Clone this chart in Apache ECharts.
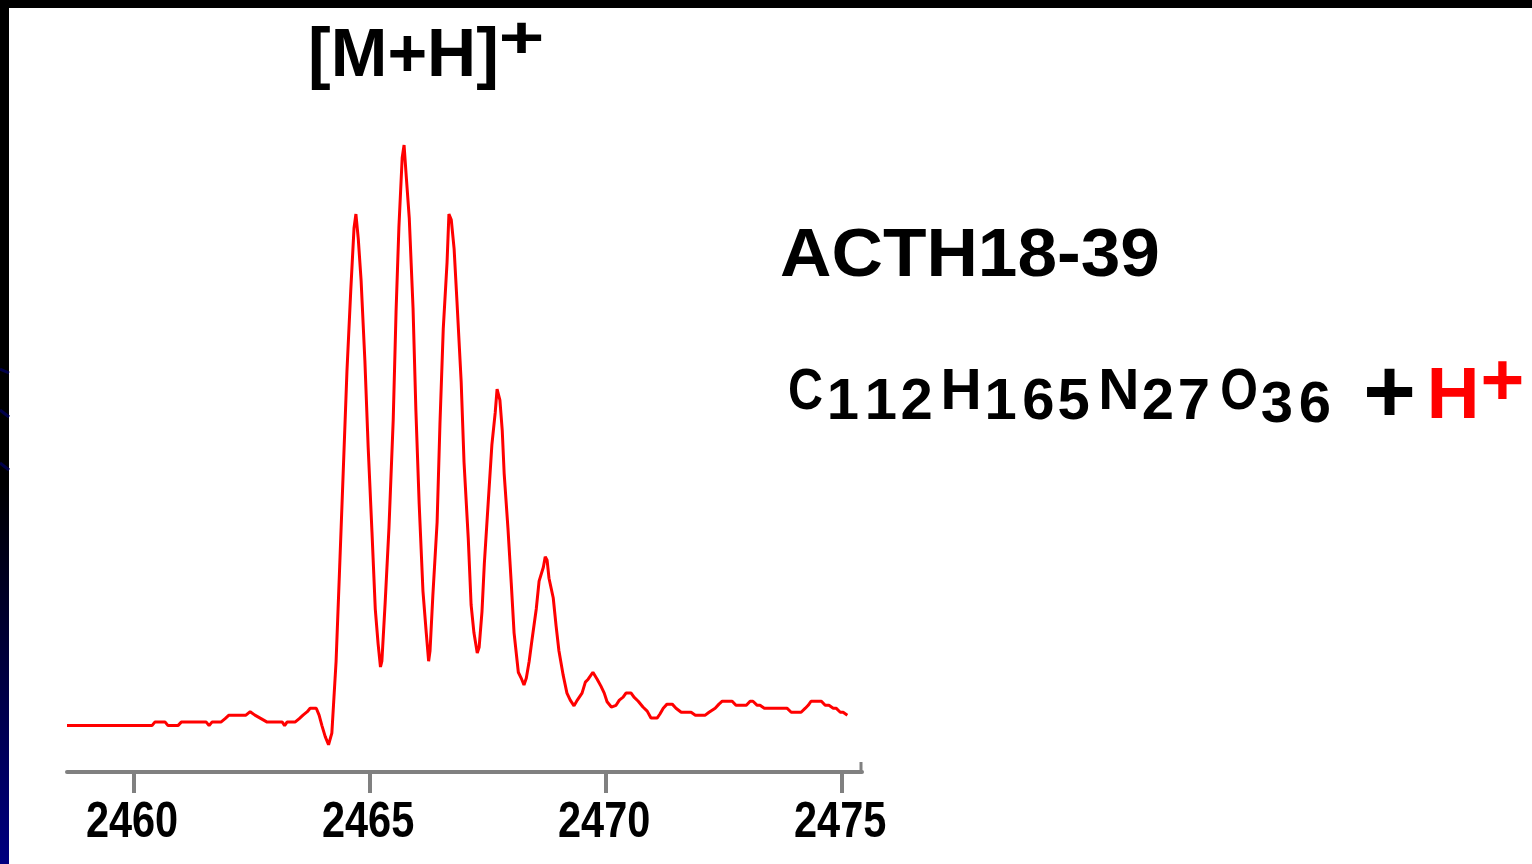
<!DOCTYPE html>
<html>
<head>
<meta charset="utf-8">
<title>ACTH18-39 [M+H]+</title>
<script src="https://cdn.jsdelivr.net/npm/echarts@6/dist/echarts.min.js"></script>
<style>
  html, body { margin: 0; padding: 0; background: #fff; }
  #chart { width: 1532px; height: 864px; }
</style>
</head>
<body>
<div id="chart"></div>
<script>
// Isotope envelope of the protonated ACTH18-39 ion (m/z vs relative intensity, %)
const mzValues = [
  2458.58, 2460.38, 2460.44, 2460.66, 2460.72, 2460.93, 2461.00, 2461.53, 2461.59, 2461.65,
  2461.84, 2461.93, 2462.01, 2462.37, 2462.46, 2462.56, 2462.69, 2462.82, 2463.14, 2463.19,
  2463.24, 2463.41, 2463.50, 2463.58, 2463.67, 2463.73, 2463.86, 2463.92, 2463.98, 2464.05,
  2464.12, 2464.19, 2464.28, 2464.35, 2464.43, 2464.51, 2464.59, 2464.66, 2464.70, 2464.75,
  2464.81, 2464.89, 2464.96, 2465.04, 2465.11, 2465.17, 2465.22, 2465.25, 2465.32, 2465.40,
  2465.49, 2465.55, 2465.61, 2465.68, 2465.72, 2465.76, 2465.83, 2465.91, 2465.97, 2466.04,
  2466.12, 2466.19, 2466.24, 2466.27, 2466.33, 2466.42, 2466.48, 2466.55, 2466.63, 2466.67,
  2466.72, 2466.78, 2466.84, 2466.93, 2466.99, 2467.08, 2467.14, 2467.20, 2467.27, 2467.31,
  2467.37, 2467.42, 2467.50, 2467.58, 2467.65, 2467.69, 2467.75, 2467.80, 2467.84, 2467.92,
  2467.99, 2468.05, 2468.14, 2468.20, 2468.26, 2468.31, 2468.37, 2468.43, 2468.52, 2468.58,
  2468.67, 2468.71, 2468.75, 2468.79, 2468.88, 2468.94, 2469.00, 2469.09, 2469.17, 2469.24,
  2469.32, 2469.39, 2469.49, 2469.56, 2469.62, 2469.72, 2469.81, 2469.89, 2469.96, 2470.02,
  2470.11, 2470.15, 2470.21, 2470.28, 2470.36, 2470.42, 2470.53, 2470.59, 2470.68, 2470.78,
  2470.87, 2470.95, 2471.08, 2471.14, 2471.21, 2471.29, 2471.40, 2471.48, 2471.59, 2471.80,
  2471.89, 2472.10, 2472.18, 2472.31, 2472.39, 2472.46, 2472.67, 2472.75, 2472.97, 2473.05,
  2473.11, 2473.20, 2473.26, 2473.35, 2473.83, 2473.92, 2474.13, 2474.22, 2474.28, 2474.34,
  2474.56, 2474.64, 2474.72, 2474.81, 2474.87, 2474.96, 2475.02, 2475.11
];

const intensity = [
  -0.1, -0.1, 0.5, 0.5, -0.1, -0.1, 0.5, 0.5, -0.1, 0.5,
  0.5, 1.1, 1.7, 1.7, 2.3, 1.7, 1.1, 0.5, 0.5, -0.1,
  0.5, 0.5, 1.1, 1.7, 2.3, 2.9, 2.9, 1.7, -0.1, -2.0,
  -3.4, -1.4, 11.0, 26.0, 43.4, 61.0, 74.8, 85.7, 88.1, 83.8,
  76.6, 62.8, 47.8, 33.3, 20.0, 14.0, 10.0, 11.0, 21.2, 34.0,
  52.6, 71.2, 85.7, 97.8, 100.0, 95.3, 87.4, 71.9, 54.3, 38.1,
  23.1, 15.9, 11.0, 12.8, 22.4, 35.0, 51.9, 68.3, 79.7, 88.1,
  87.1, 82.1, 73.1, 59.1, 45.3, 32.1, 20.7, 15.9, 12.4, 13.4,
  19.5, 27.8, 38.1, 48.3, 53.8, 57.9, 56.0, 50.7, 43.4, 34.0,
  24.5, 15.9, 9.1, 8.1, 6.9, 8.1, 11.0, 14.7, 20.0, 24.8,
  27.2, 29.0, 28.4, 25.3, 21.9, 17.1, 12.8, 8.6, 5.5, 4.3,
  3.3, 4.3, 5.5, 7.4, 7.9, 9.1, 7.9, 6.7, 5.5, 4.0,
  3.1, 2.8, 3.4, 4.3, 4.8, 5.5, 5.5, 4.8, 4.1, 3.1,
  2.4, 1.2, 1.2, 1.9, 2.9, 3.6, 3.6, 2.9, 2.2, 2.2,
  1.7, 1.7, 2.2, 2.9, 3.6, 4.1, 4.1, 3.4, 3.4, 4.1,
  4.1, 3.4, 3.4, 2.9, 2.9, 2.2, 2.2, 2.9, 3.4, 4.1,
  4.1, 3.4, 3.4, 2.9, 2.9, 2.2, 2.2, 1.7
];

const tickValues = [2460, 2465, 2470, 2475];
const mzRange = [2458.58, 2475.42];
const intensityRange = [-8.1, 100];

const spectrum = mzValues.map((m, i) => [m, intensity[i]]);

const SANS = "'Liberation Sans', Arial, Helvetica, sans-serif";
const BLACK = '#000000';
const RED = '#ff0000';
const AXIS_GREY = '#808080';

// Text placed by the centre of its glyphs and its baseline
function label(text, cx, baseline, size, color, scaleX) {
  return {
    type: 'text',
    x: cx,
    y: baseline - 0.3465 * size,
    scaleX: scaleX || 1,
    silent: true,
    z: 10,
    style: {
      text: text,
      fontFamily: SANS,
      fontWeight: 'bold',
      fontSize: size,
      fill: color,
      align: 'center',
      verticalAlign: 'middle'
    }
  };
}

const texts = [
  label('[M+H]', 403.5, 81, 68, BLACK),
  label('+', 521.5, 62, 60, BLACK, 1.3),
  label('ACTH18-39', 970, 281, 68, BLACK, 1.047),
  // C112 H165 N27 O36 + H+
  label('C', 805.5, 413, 57, BLACK, 0.85),
  label('1', 843, 423, 58, BLACK),
  label('1', 881, 423, 58, BLACK),
  label('2', 916.7, 423, 58, BLACK),
  label('H', 961, 413, 57, BLACK),
  label('1', 1000.6, 423, 58, BLACK),
  label('6', 1038.5, 423, 58, BLACK),
  label('5', 1073.6, 423, 58, BLACK),
  label('N', 1118.8, 413, 57, BLACK),
  label('2', 1158, 423, 58, BLACK),
  label('7', 1194, 423, 58, BLACK),
  label('O', 1239, 413, 57, BLACK, 0.85),
  label('3', 1277, 426, 58, BLACK),
  label('6', 1315, 426, 58, BLACK),
  label('+', 1389.5, 428, 90, BLACK),
  label('H', 1453, 423.3, 73, RED),
  label('+', 1502.5, 410, 75, RED)
];

const frame = [
  { type: 'rect', silent: true, z: 0, shape: { x: 0, y: 0, width: 1532, height: 8 }, style: { fill: '#000' } },
  {
    type: 'rect', silent: true, z: 0,
    shape: { x: 0, y: 0, width: 9, height: 864 },
    style: {
      fill: new echarts.graphic.LinearGradient(0, 0, 0, 1, [
        { offset: 0, color: '#000000' },
        { offset: 0.56, color: '#000000' },
        { offset: 1, color: '#000080' }
      ])
    }
  },
  { type: 'line', silent: true, z: 1, shape: { x1: 0, y1: 369, x2: 9, y2: 373 }, style: { stroke: '#00004a', lineWidth: 3 } },
  { type: 'line', silent: true, z: 1, shape: { x1: 0, y1: 410, x2: 9, y2: 417 }, style: { stroke: '#00004a', lineWidth: 3 } },
  { type: 'line', silent: true, z: 1, shape: { x1: 0, y1: 463, x2: 9, y2: 470 }, style: { stroke: '#00004a', lineWidth: 3 } }
];

const chart = echarts.init(document.getElementById('chart'), null, { renderer: 'canvas' });

chart.setOption({
  backgroundColor: '#ffffff',
  animation: false,
  grid: { left: 67, right: 670, top: 145, bottom: 92, containLabel: false },
  xAxis: {
    type: 'value',
    min: mzRange[0],
    max: mzRange[1],
    splitLine: { show: false },
    axisLine: { show: true, onZero: false, lineStyle: { color: AXIS_GREY, width: 4 } },
    axisTick: {
      show: true,
      customValues: tickValues,
      length: 21,
      lineStyle: { color: AXIS_GREY, width: 4 }
    },
    axisLabel: { show: false }
  },
  yAxis: {
    type: 'value',
    min: intensityRange[0],
    max: intensityRange[1],
    show: false,
    splitLine: { show: false }
  },
  series: [{
    type: 'line',
    data: spectrum,
    showSymbol: false,
    symbol: 'none',
    clip: false,
    lineStyle: { color: RED, width: 3 },
    z: 3
  }],
  graphic: frame.concat(texts)
});

// Tick labels in a condensed face, placed through the axis scale
const axisEnd = chart.convertToPixel({ xAxisIndex: 0 }, mzRange[1]);
const axisY = chart.convertToPixel({ yAxisIndex: 0 }, intensityRange[0]);
const tickLabels = tickValues.map(v => {
  const px = chart.convertToPixel({ xAxisIndex: 0 }, v);
  return {
    type: 'text',
    x: px - 2,
    y: 841 - 0.3465 * 50,
    scaleX: 0.83,
    silent: true,
    z: 10,
    style: {
      text: String(v),
      fontFamily: SANS,
      fontWeight: 'bold',
      fontSize: 50,
      fill: BLACK,
      align: 'center',
      verticalAlign: 'middle'
    }
  };
});
// small upright cap closing the m/z axis
const axisCap = {
  type: 'line', silent: true, z: 5,
  shape: { x1: axisEnd - 1, y1: axisY - 10, x2: axisEnd - 1, y2: axisY },
  style: { stroke: AXIS_GREY, lineWidth: 3 }
};

chart.setOption({ graphic: frame.concat(texts, tickLabels, [axisCap]) });
</script>
</body>
</html>
